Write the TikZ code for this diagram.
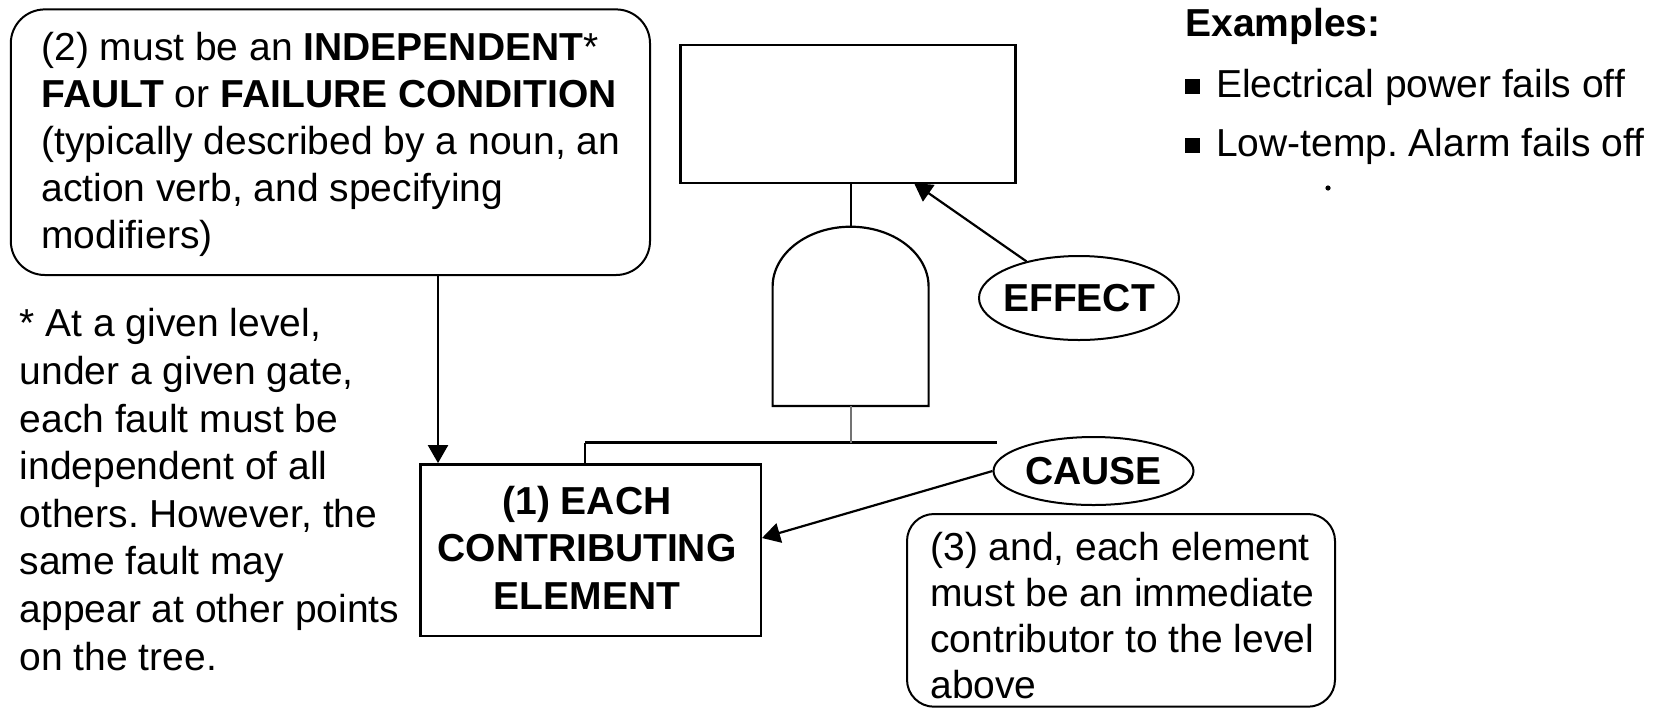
\documentclass[tikz,border=0pt]{standalone}
\usepackage{fontspec}
\setmainfont{Liberation Sans}
\usetikzlibrary{shapes.geometric,arrows.meta}
\frenchspacing
\begin{document}
\begin{tikzpicture}[x=0.5pt,y=-0.5pt,
  line/.style={line width=1.1pt, black},
  arr/.style={line, -{Triangle[length=9pt,width=10pt]}},
  rbox/.style={draw, line width=1pt, rounded corners=#1, inner sep=0pt},
  frame/.style={draw, line width=1.2pt, inner sep=0pt},
  txt/.style={inner sep=0pt, align=left, font=\fontsize{19.5}{23.75}\selectfont},
  oval/.style={draw, ellipse, line width=1pt, inner sep=0pt,
    font=\fontsize{19.5}{23.75}\selectfont\bfseries},
]
\useasboundingbox (0,0) rectangle (1668,708);

% condition box (2); multi-line texts are placed by their last baseline
\node[rbox=17pt, minimum width=319.6pt, minimum height=132.8pt] (cond) at (330.4,142.2) {};
\node[txt, anchor=base west, font=\fontsize{19.5}{23.5}\selectfont] (condtext) at (41,248)
  {(2) must be an \textbf{INDEPENDENT}*\\
   \textbf{FAULT} or \textbf{FAILURE CONDITION}\\
   (typically described by a noun, an\\
   action verb, and specifying\\
   modifiers)};

% footnote
\node[txt, anchor=base west, font=\fontsize{19.5}{23.8}\selectfont] (note) at (19.3,670)
  {* At a given level,\\
   under a given gate,\\
   each fault must be\\
   independent of all\\
   others. However, the\\
   same fault may\\
   appear at other points\\
   on the tree.};

% top event box
\node[frame, minimum width=167.5pt, minimum height=68.85pt] (top) at (848,113.85) {};

% AND gate
\coordinate (gtop) at (850.6,226.7);
\coordinate (gbot) at (850.6,406);
\draw[line] (772.6,406) -- (772.6,286.7)
  arc[start angle=180, end angle=0, x radius=39pt, y radius=30pt]
  -- (928.6,406) -- cycle;
\draw[line] (top.south -| gtop) -- (gtop);

% branch bar below the gate
\coordinate (barL) at (585,442.7);
\coordinate (barR) at (997,442.7);
\draw[line, line width=1.3pt] (barL) -- (barR);
\draw[line, black!55] (gbot) -- (gbot |- barR);

% contributing element
\node[frame, minimum width=170.25pt, minimum height=85.85pt] (elem) at (590.75,550.15) {};
\node[txt, align=center, anchor=base, font=\fontsize{19.5}{23.75}\selectfont\bfseries] (elemtext) at (587,609)
  {(1) EACH\\ CONTRIBUTING\\ ELEMENT};
\draw[line] (barL) -- (elem.north -| barL);

% arrow from condition box into the element
\coordinate (ax) at (438,0);
\draw[arr] (cond.south -| ax) -- (elem.north -| ax);

% effect and cause labels
\node[oval, minimum width=100pt, minimum height=42pt] (effect) at (1079,298) {\makebox[0pt]{EFFECT}};
\coordinate (etip) at (914,183);
\draw[arr] (effect) -- (etip);

\node[oval, minimum width=100pt, minimum height=34pt] (cause) at (1093.5,471) {\makebox[0pt]{CAUSE}};
\coordinate (ctip) at (762,538);
\draw[arr] (cause.west) -- (ctip);

% condition box (3)
\node[rbox=13.5pt, minimum width=214pt, minimum height=96.35pt] (imm) at (1121,610.35) {};
\node[txt, anchor=base west, font=\fontsize{19.5}{23}\selectfont] (immtext) at (930,698)
  {(3) and, each element\\
   must be an immediate\\
   contributor to the level\\
   above};

% examples
\node[txt, anchor=base west] (exhead) at (1185,36) {\textbf{Examples:}};
\node[txt, anchor=base west, font=\fontsize{19.5}{29.5}\selectfont] (exlist) at (1185,156)
  {\rule[1.6pt]{7.3pt}{7.3pt}\hspace{8pt}Electrical power fails off\\
   \rule[1.6pt]{7.3pt}{7.3pt}\hspace{8pt}Low-temp. Alarm fails off};
\fill (1328,188) circle[radius=1.3pt];
\end{tikzpicture}
\end{document}
